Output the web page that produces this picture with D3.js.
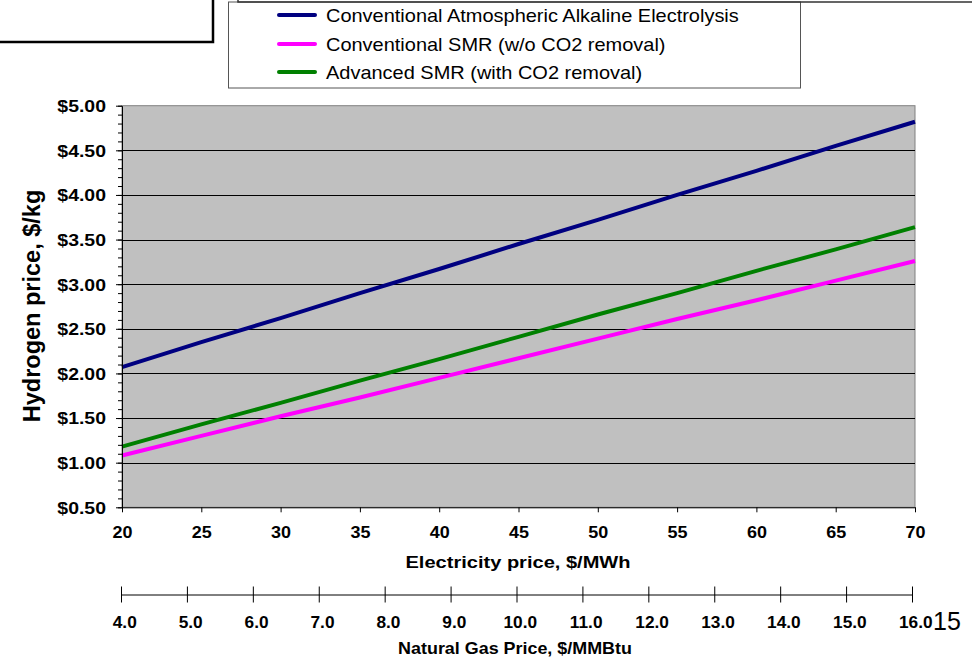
<!DOCTYPE html>
<html>
<head>
<meta charset="utf-8">
<script src="https://cdn.jsdelivr.net/npm/d3@7"></script>
<style>
  body { margin: 0; background: #fff; }
  svg { display: block; font-family: "Liberation Sans", Arial, sans-serif; }
</style>
</head>
<body>
<div id="chart"></div>
<script>
// data
const elecPrice = [20, 25, 30, 35, 40, 45, 50, 55, 60, 65, 70];
const alkaline  = [2.07, 2.35, 2.62, 2.90, 3.17, 3.45, 3.72, 4.00, 4.27, 4.55, 4.82];
const smrConv   = [1.08, 1.30, 1.52, 1.73, 1.95, 2.17, 2.39, 2.61, 2.82, 3.04, 3.26];
const smrAdv    = [1.18, 1.43, 1.67, 1.92, 2.16, 2.41, 2.66, 2.90, 3.15, 3.39, 3.64];
const seriesNames = [
  "Conventional Atmospheric Alkaline Electrolysis",
  "Conventional SMR (w/o CO2 removal)",
  "Advanced SMR (with CO2 removal)"
];
const seriesColors = ["#000080", "#ff00ff", "#008000"];
const yTicks = [0.5, 1.0, 1.5, 2.0, 2.5, 3.0, 3.5, 4.0, 4.5, 5.0];
const yMinor = d3.range(5, 51).map(d => d / 10);
const gasTicks = [4, 5, 6, 7, 8, 9, 10, 11, 12, 13, 14, 15, 16];

const W = 972, H = 659;
const plot = { left: 122, right: 915, top: 105.7, bottom: 507.3 };

const svg = d3.select("#chart")
  .append("svg")
    .attr("width", W)
    .attr("height", H);

const x = d3.scaleLinear().domain([20, 70]).range([plot.left, plot.right]);
const y = d3.scaleLinear().domain([0.5, 5]).range([plot.bottom, plot.top]);
const xGas = d3.scaleLinear().domain([4, 16]).range([121, 912]);

// plot background
svg.append("rect")
  .attr("x", plot.left).attr("y", plot.top)
  .attr("width", plot.right - plot.left)
  .attr("height", plot.bottom - plot.top)
  .attr("fill", "#c0c0c0")
  .attr("stroke", "#808080")
  .attr("stroke-width", 1);

// gridlines
svg.append("g")
  .selectAll("line")
  .data(yTicks.slice(1, -1))
  .enter()
  .append("line")
    .attr("x1", plot.left).attr("x2", plot.right)
    .attr("y1", d => Math.round(y(d)) + 0.5)
    .attr("y2", d => Math.round(y(d)) + 0.5)
    .attr("stroke", "#000")
    .attr("stroke-width", 1);

// series lines
const series = [alkaline, smrConv, smrAdv];
const line = d3.line()
  .x((d, i) => x(elecPrice[i]))
  .y(d => y(d));

svg.append("g")
  .selectAll("path")
  .data(series)
  .enter()
  .append("path")
    .attr("d", line)
    .attr("fill", "none")
    .attr("stroke", (d, i) => seriesColors[i])
    .attr("stroke-width", 4);

// y axis: minor ticks then major ticks with labels
svg.append("g")
  .attr("transform", `translate(${plot.left},0)`)
  .call(d3.axisLeft(y).tickValues(yMinor).tickSize(4).tickFormat(""))
  .call(g => g.select(".domain").remove());

const yAxis = svg.append("g")
  .attr("transform", `translate(${plot.left},0)`)
  .call(d3.axisLeft(y).tickValues(yTicks).tickSize(6).tickSizeOuter(0)
    .tickFormat(d => "$" + d3.format(".2f")(d)));

yAxis.selectAll("text")
  .attr("font-size", 16.5)
  .attr("font-weight", "bold")
  .attr("fill", "#000")
  .attr("x", -16 / 1.18)
  .attr("dy", "0.36em")
  .attr("transform", "scale(1.18,1)");

// x axis (electricity)
const xAxis = svg.append("g")
  .attr("transform", `translate(0,${plot.bottom})`)
  .call(d3.axisBottom(x).tickValues(elecPrice).tickSize(5).tickSizeOuter(0));

xAxis.selectAll("text")
  .attr("font-size", 16.5)
  .attr("font-weight", "bold")
  .attr("fill", "#000")
  .attr("y", 31)
  .attr("dy", 0)
  .attr("transform", "scale(1.09,1)");

svg.selectAll(".domain, .tick line").attr("stroke", "#000");

// second axis (natural gas)
const gasAxis = svg.append("g")
  .attr("transform", "translate(0,594.5)")
  .call(d3.axisBottom(xGas).tickValues(gasTicks).tickSize(8).tickSizeOuter(0)
    .tickFormat(d3.format(".1f")));

gasAxis.selectAll(".tick line").attr("y1", -8).attr("y2", 8);
gasAxis.selectAll("text")
  .attr("font-size", 16)
  .attr("font-weight", "bold")
  .attr("fill", "#000")
  .attr("x", 3)
  .attr("y", 34)
  .attr("dy", 0)
  .attr("transform", "scale(1.08,1)");

// axis titles
svg.append("text")
  .attr("transform", "translate(518,568) scale(1.18,1)")
  .attr("text-anchor", "middle")
  .attr("font-size", 17)
  .attr("font-weight", "bold")
  .text("Electricity price, $/MWh");

svg.append("text")
  .attr("transform", "translate(515,654) scale(1.12,1)")
  .attr("text-anchor", "middle")
  .attr("font-size", 16)
  .attr("font-weight", "bold")
  .text("Natural Gas Price, $/MMBtu");

svg.append("text")
  .attr("transform", "translate(40,306) rotate(-90)")
  .attr("text-anchor", "middle")
  .attr("font-size", 23.5)
  .attr("font-weight", "bold")
  .text("Hydrogen price, $/kg");

// slide number
svg.append("text")
  .attr("x", 933)
  .attr("y", 630)
  .attr("font-size", 25)
  .text("15");

// top-left frame
svg.append("path")
  .attr("d", "M0,42 H213 V0")
  .attr("fill", "none")
  .attr("stroke", "#000")
  .attr("stroke-width", 2.5);

// legend
const legend = svg.append("g");

legend.append("rect")
  .attr("x", 228.5).attr("y", 2)
  .attr("width", 572).attr("height", 86)
  .attr("fill", "#fff")
  .attr("stroke", "#555")
  .attr("stroke-width", 1);

legend.append("path")
  .attr("d", "M238,0 V2 H972")
  .attr("fill", "none")
  .attr("stroke", "#333")
  .attr("stroke-width", 1.5);

const legendY = [15, 44, 72];
const item = legend.selectAll(".item")
  .data(seriesNames)
  .enter()
  .append("g")
    .attr("class", "item")
    .attr("transform", (d, i) => `translate(0,${legendY[i]})`);

item.append("line")
  .attr("x1", 279).attr("x2", 315)
  .attr("stroke", (d, i) => seriesColors[i])
  .attr("stroke-width", 4)
  .attr("stroke-linecap", "round");

item.append("text")
  .attr("transform", "translate(326,6.5) scale(1.11,1)")
  .attr("font-size", 18)
  .text(d => d);
</script>
</body>
</html>
